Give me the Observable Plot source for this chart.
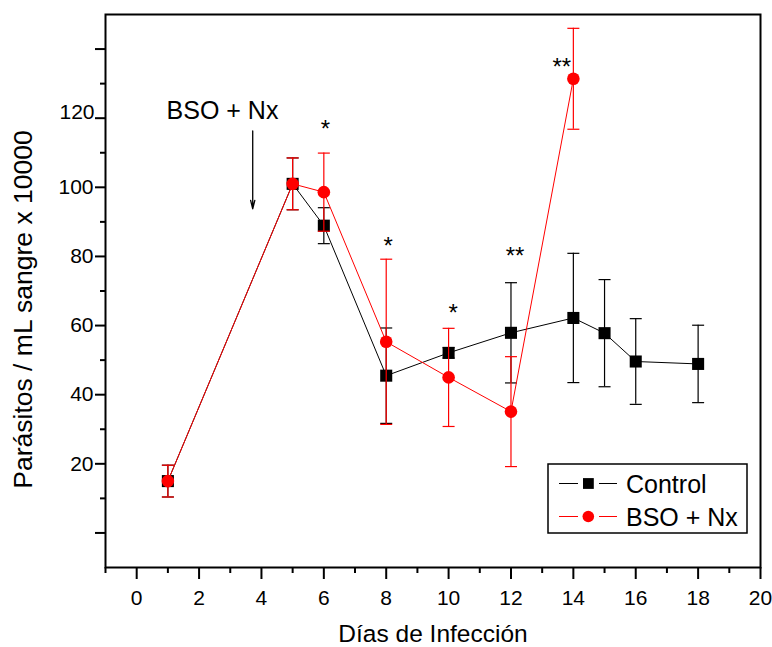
<!DOCTYPE html>
<html><head><meta charset="utf-8">
<script src="https://cdn.jsdelivr.net/npm/d3@7"></script>
<script src="https://cdn.jsdelivr.net/npm/@observablehq/plot@0.6"></script>
<style>
body{margin:0;background:#fff;}
#chart{position:relative;width:772px;height:647px;}
svg{font-family:"Liberation Sans",Arial,sans-serif;}
</style>
</head><body><div id="chart"></div>
<script>
// ---- data ----
const controlDays = [1, 5, 6, 8, 10, 12, 14, 15, 16, 18];
const controlValues = [15, 101, 88.9, 45.5, 52.1, 57.9, 62.2, 57.8, 49.6, 48.9];
const controlErrors = [4.6, 7.5, 5.2, 13.8, 1.5, 14.5, 18.7, 15.5, 12.4, 11.2];
const bsoDays = [1, 5, 6, 8, 10, 12, 14];
const bsoValues = [15, 101, 98.6, 55.3, 45.0, 35.1, 131.4];
const bsoErrors = [4.6, 7.5, 11.3, 23.9, 14.2, 15.9, 14.6];
const starDays = [6.05, 8.06, 10.15, 12.13, 13.63];
const starTops = [119.5, 85.5, 66.2, 82.8, 137.5];
const starLabels = ["*", "*", "*", "**", "**"];
const xTicksMajor = [0, 2, 4, 6, 8, 10, 12, 14, 16, 18, 20];
const xTicksMinor = [-1, 1, 3, 5, 7, 9, 11, 13, 15, 17, 19];
const yTicksMajor = [0, 20, 40, 60, 80, 100, 120, 140];
const yTicksMinor = [10, 30, 50, 70, 90, 110, 130];
const yTickLabels = [20, 40, 60, 80, 100];
const yTickLabelsRaised = [120];
const annotationText = "BSO + Nx";
const annotationX = 2.75, annotationTop = 125;
const arrowX = 3.72, arrowFrom = 116.3, arrowTo = 93.8;
const xTitle = "Días de Infección";
const yTitle = "Parásitos / mL sangre x 10000";
const seriesNames = ["Control", "BSO + Nx"];
const seriesColors = ["#000000", "#ff0000"];

function rows(days, vals, errs) {
  return days.map((d, i) => ({day: d, v: vals[i], lo: vals[i] - errs[i], hi: vals[i] + errs[i]}));
}
const ctrl = rows(controlDays, controlValues, controlErrors);
const bso = rows(bsoDays, bsoValues, bsoErrors);
const stars = starDays.map((d, i) => ({day: d, y: starTops[i], t: starLabels[i]}));

const hline = {draw(ctx, size) { const w = Math.sqrt(size / Math.PI); ctx.moveTo(-w, 0); ctx.lineTo(w, 0); }};

function seriesMarks(data, color, symbol, r) {
  return [
    Plot.ruleX(data, {x: "day", y1: "lo", y2: "hi", stroke: color, strokeWidth: 1.2}),
    Plot.dot(data, {x: "day", y: "hi", symbol: hline, r: 6, stroke: color, strokeWidth: 1.2}),
    Plot.dot(data, {x: "day", y: "lo", symbol: hline, r: 6, stroke: color, strokeWidth: 1.2}),
    Plot.line(data, {x: "day", y: "v", stroke: color, strokeWidth: 1}),
    Plot.dot(data, {x: "day", y: "v", symbol, r, fill: color, stroke: "none"})
  ];
}

const plot = Plot.plot({
  width: 772, height: 647,
  marginLeft: 105, marginRight: 12, marginTop: 14, marginBottom: 80,
  style: {fontFamily: '"Liberation Sans", Arial, sans-serif', background: "#fff"},
  x: {domain: [-1, 20]},
  y: {domain: [-10, 150]},
  marks: [
    Plot.axisY({ticks: yTicksMinor, tickSize: 5, strokeWidth: 2, tickFormat: () => "", label: null}),
    Plot.axisY({ticks: yTicksMajor, tickSize: 10, tickPadding: 2, strokeWidth: 2, fontSize: 21,
      tickFormat: d => yTickLabels.includes(d) ? String(d) : "", label: null}),
    Plot.axisY({ticks: yTickLabelsRaised, tickSize: 0, tickPadding: 11, fontSize: 21, dy: -6, label: null}),
    Plot.axisX({ticks: xTicksMinor, tickSize: 6, strokeWidth: 2, tickFormat: () => "", label: null}),
    Plot.axisX({ticks: xTicksMajor, tickSize: 12, tickPadding: 11, strokeWidth: 2, fontSize: 21, label: null}),
    Plot.frame({stroke: "#000", strokeWidth: 2}),
    Plot.text([xTitle], {frameAnchor: "bottom", text: d => d, textAnchor: "middle", lineAnchor: "top", dy: 57, fontSize: 24.5}),
    Plot.text([yTitle], {frameAnchor: "left", text: d => d, rotate: -90, textAnchor: "middle", lineAnchor: "top", dx: -92, dy: 18.5, fontSize: 26.5}),
    ...seriesMarks(ctrl, seriesColors[0], "square", 6.8),
    ...seriesMarks(bso, seriesColors[1], "circle", 6.3),
    Plot.text(stars, {x: "day", y: "y", text: "t", lineAnchor: "top", fontSize: 24}),
    Plot.text([annotationText], {x: () => annotationX, y: () => annotationTop, text: d => d, lineAnchor: "top", fontSize: 25}),
    Plot.arrow([0], {x1: () => arrowX, x2: () => arrowX, y1: () => arrowFrom, y2: () => arrowTo, stroke: "#000", strokeWidth: 1.3, headLength: 10, headAngle: 28, bend: 0})
  ]
});
document.getElementById("chart").appendChild(plot);

// ---- legend ----
const svg = d3.select(plot);
const lg = svg.append("g").attr("transform", "translate(548,464)");
lg.append("rect").attr("x", 0).attr("y", 0).attr("width", 199).attr("height", 69)
  .attr("fill", "#fff").attr("stroke", "#000").attr("stroke-width", 1.5);
seriesNames.forEach((name, i) => {
  const cy = 19.5 + i * 33;
  const g = lg.append("g").attr("transform", `translate(0,${cy})`);
  g.append("line").attr("x1", 11).attr("x2", 30).attr("y1", 0).attr("y2", 0).attr("stroke", seriesColors[i]).attr("stroke-width", 1);
  g.append("line").attr("x1", 51).attr("x2", 69).attr("y1", 0).attr("y2", 0).attr("stroke", seriesColors[i]).attr("stroke-width", 1);
  if (i === 0) g.append("rect").attr("x", 35).attr("y", -5.4).attr("width", 10.8).attr("height", 10.8).attr("fill", seriesColors[i]);
  else g.append("circle").attr("cx", 40.3).attr("cy", 0).attr("r", 5.8).attr("fill", seriesColors[i]);
  g.append("text").attr("x", 78).attr("y", 0).attr("dy", "0.36em").attr("text-anchor", "start")
    .attr("font-size", 25).attr("fill", "#000").text(name);
});
</script>
</body></html>
